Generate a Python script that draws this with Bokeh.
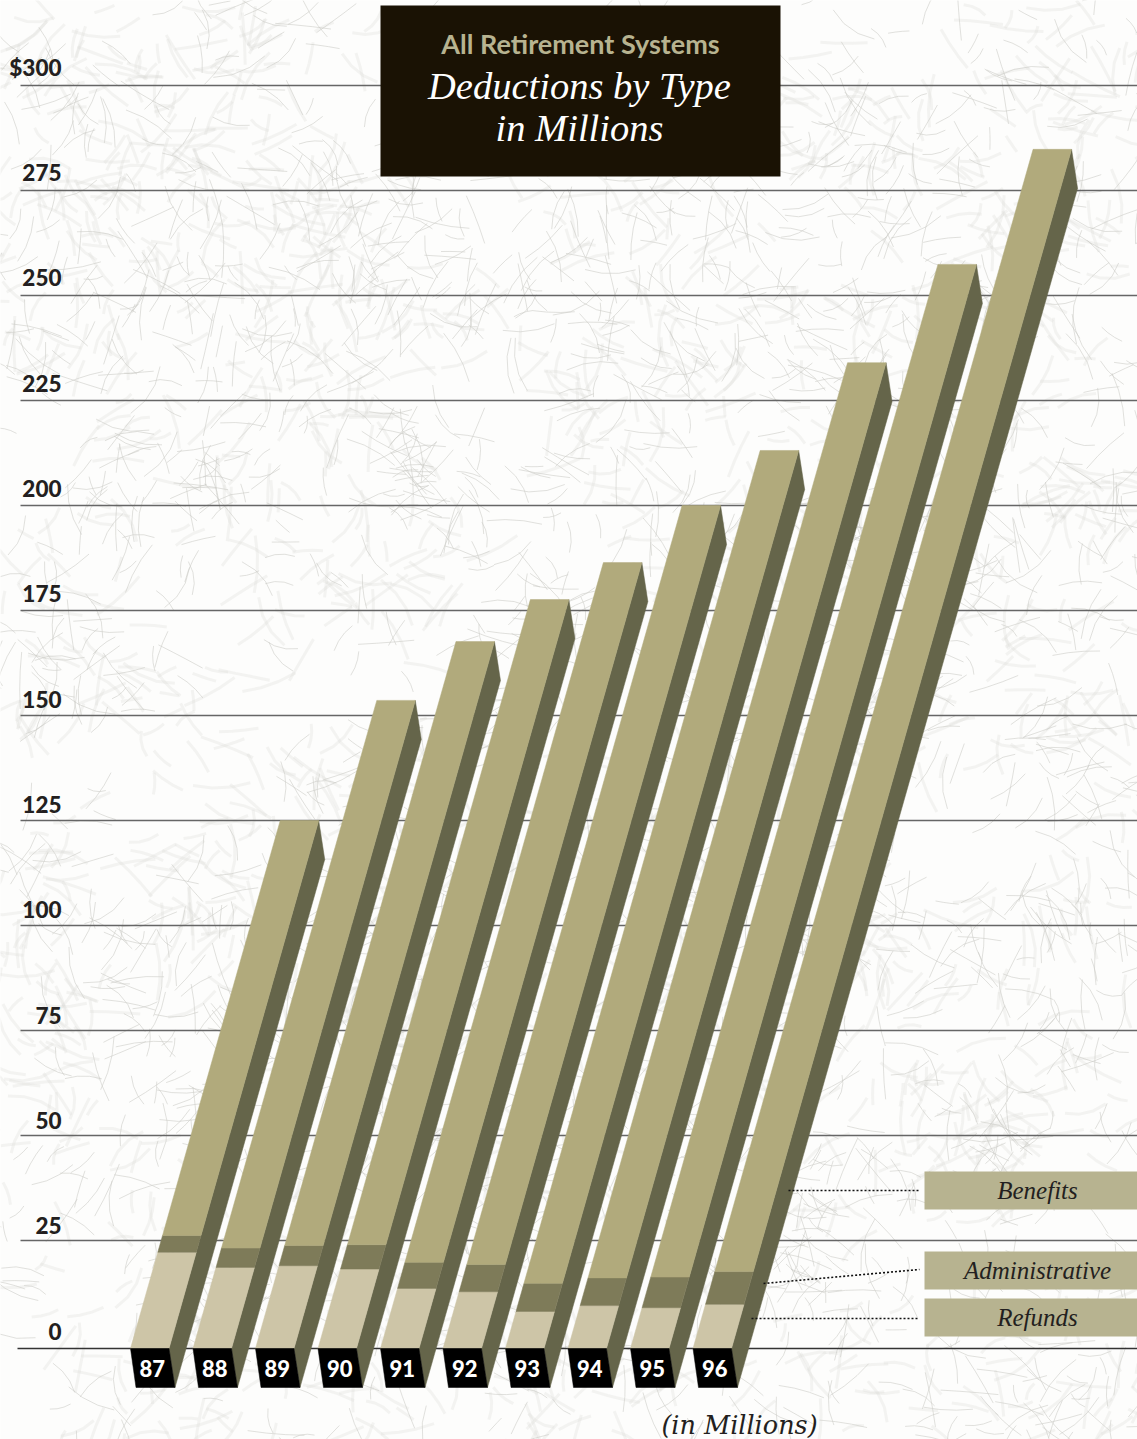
import math

from bokeh.core.properties import value
from bokeh.embed import file_html
from bokeh.models import Range1d
from bokeh.plotting import figure
from bokeh.resources import INLINE

# Deductions in millions of dollars, fiscal years 1987-1996
years = ["87", "88", "89", "90", "91", "92", "93", "94", "95", "96"]
refunds = [22.2, 18.6, 19.0, 18.2, 13.6, 12.8, 8.1, 9.5, 9.0, 9.8]
administrative = [4.0, 4.6, 4.8, 5.8, 6.2, 6.5, 6.7, 6.6, 7.3, 7.8]
benefits = [98.8, 130.4, 143.8, 153.6, 166.6, 180.7, 198.3, 217.9, 241.1, 267.2]
tick_values = [300, 275, 250, 225, 200, 175, 150, 125, 100, 75, 50, 25]
tick_labels = ["$300", "275", "250", "225", "200", "175", "150", "125", "100", "75", "50", "25", "0"]
label_values = tick_values + [0]

WIDTH, HEIGHT = 1137, 1439
PX_PER_UNIT = 4.2
ZERO_PX = 1345.0
FLOOR_PX = 1348.0          # the floor of the chart sits just under the zero of the scale
FLOOR = (ZERO_PX - FLOOR_PX) / PX_PER_UNIT
SHEAR = 0.2836 * PX_PER_UNIT   # horizontal lean per unit of value
BAR_W = 38.5
BAR_STEP = 62.5
BAR_X0 = 130.0
SIDE_DX = 6.0
SIDE_DY = 39.0 / PX_PER_UNIT
LABEL_ZERO_PX = 1330.5
LABEL_PX_PER_UNIT = 4.2133

C_BENEFITS = "#b1aa7c"
C_ADMIN = "#7e7b59"
C_REFUNDS = "#cdc5a7"
C_SIDE = "#65654a"
C_LEGEND = "#b7b390"
C_TITLE_BOX = "#1a1204"
C_INK = "#231f20"
HEAVY = value("Lato Black")

p = figure(
    width=WIDTH, height=HEIGHT, output_backend="svg", toolbar_location=None,
    x_range=Range1d(0, WIDTH),
    y_range=Range1d((ZERO_PX - HEIGHT) / PX_PER_UNIT, ZERO_PX / PX_PER_UNIT),
    x_axis_type=None, y_axis_type=None, min_border=0,
    background_fill_color="#fdfdfc", border_fill_color="#fdfdfc", outline_line_color=None,
)
p.grid.visible = False
p.extra_y_ranges = {"px": Range1d(HEIGHT, 0)}


def scramble(n):
    return math.modf(abs(math.sin(n * 12.9898 + 4.1414) * 43758.5453))[0]


# Paper fibres: short bent strokes gathered into loose tufts
def fibres(tufts, per_tuft, seed):
    xs, ys = [], []
    n = seed
    for _ in range(tufts):
        cx, cy = scramble(n) * WIDTH, scramble(n + 1) * HEIGHT
        n += 2
        lean_angle = scramble(n) * math.pi
        n += 1
        for _ in range(per_tuft):
            x = cx + (scramble(n) - 0.5) * 110
            y = cy + (scramble(n + 1) - 0.5) * 90
            a = lean_angle + (scramble(n + 2) - 0.5) * 2.4
            length = 18 + scramble(n + 3) * 40
            bend = (scramble(n + 4) - 0.5) * 0.6
            n += 5
            fx, fy = [x], [y]
            for _ in range(3):
                x += math.cos(a) * length / 3
                y += math.sin(a) * length / 3
                a += bend
                fx.append(x)
                fy.append(y)
            xs.append(fx)
            ys.append(fy)
    return xs, ys


soft_x, soft_y = fibres(340, 6, 11)
p.multi_line(soft_x, soft_y, y_range_name="px", line_color="#d4d4d0", line_width=3.0, line_alpha=0.24)
fine_x, fine_y = fibres(400, 6, 5003)
p.multi_line(fine_x, fine_y, y_range_name="px", line_color="#cdcdc8", line_width=1.0, line_alpha=0.6)

# Rules
p.segment([20] * len(tick_values), tick_values, [WIDTH] * len(tick_values), tick_values,
          line_color="#666666", line_width=1.3)
p.segment([17], [FLOOR], [WIDTH], [FLOOR], line_color="#333333", line_width=1.3)

# Scale labels
p.text([61] * len(label_values), [LABEL_ZERO_PX - v * LABEL_PX_PER_UNIT for v in label_values],
       text=tick_labels, y_range_name="px", text_font=HEAVY, text_font_size="22.5px",
       text_color=C_INK, text_align="right", text_baseline="middle")


def lean(x, v):
    return x + SHEAR * (v - FLOOR)


face_x, face_y, face_c = [], [], []
side_x, side_y = [], []
block_x, block_y = [], []
label_x = []
for i, year in enumerate(years):
    left = BAR_X0 + BAR_STEP * i
    right = left + BAR_W
    a = refunds[i]
    b = a + administrative[i]
    c = b + benefits[i]
    for low, high, colour in ((FLOOR, a, C_REFUNDS), (a, b, C_ADMIN), (b, c, C_BENEFITS)):
        face_x.append([lean(left, low), lean(right, low), lean(right, high), lean(left, high)])
        face_y.append([low, low, high, high])
        face_c.append(colour)
    side_x.append([lean(right, FLOOR), lean(right, FLOOR) + SIDE_DX,
                   lean(right, c) + SIDE_DX, lean(right, c)])
    side_y.append([FLOOR, FLOOR - SIDE_DY, c - SIDE_DY, c])
    block_x.append([left, right, right + SIDE_DX, left + SIDE_DX - 0.5])
    block_y.append([FLOOR, FLOOR, FLOOR - SIDE_DY, FLOOR - SIDE_DY])
    label_x.append(left + BAR_W / 2 + 2.5)

p.patches(side_x, side_y, fill_color=C_SIDE, line_color=C_SIDE, line_width=0.5)
p.patches(face_x, face_y, fill_color=face_c, line_color=face_c, line_width=0.5)
p.patches(block_x, block_y, fill_color="#000000", line_color="#000000", line_width=0.5)
p.text(label_x, [FLOOR - SIDE_DY / 2] * len(years), text=years,
       text_font=HEAVY, text_font_size="22px",
       text_color="#ffffff", text_align="center", text_baseline="middle")

# Title panel
p.quad(left=[380], right=[780], top=[5], bottom=[176], y_range_name="px",
       fill_color=C_TITLE_BOX, line_color=None)
p.text([580], [43], text=["All Retirement Systems"], y_range_name="px",
       text_font=value("Lato"), text_font_style="bold", text_font_size="27px",
       text_color=C_LEGEND, text_align="center", text_baseline="middle")
p.text([579], [85], text=["Deductions by Type"], y_range_name="px",
       text_font=value("Liberation Serif"), text_font_style="italic", text_font_size="38.5px",
       text_color="#ffffff", text_align="center", text_baseline="middle")
p.text([579], [127], text=["in Millions"], y_range_name="px",
       text_font=value("Liberation Serif"), text_font_style="italic", text_font_size="38.5px",
       text_color="#ffffff", text_align="center", text_baseline="middle")

# Key panels with dotted leaders
key_names = ["Benefits", "Administrative", "Refunds"]
key_tops = [1171, 1251, 1298]
key_bottoms = [1209, 1289, 1336]
leader_x0 = [788, 763, 751]
leader_y0 = [1190, 1283, 1318]
leader_y1 = [1190, 1269, 1318]
p.quad(left=[924] * 3, right=[WIDTH] * 3, top=key_tops, bottom=key_bottoms, y_range_name="px",
       fill_color=C_LEGEND, line_color=None)
p.text([1037] * 3, [(t + b) / 2 for t, b in zip(key_tops, key_bottoms)], text=key_names,
       y_range_name="px", text_font=value("Liberation Serif"), text_font_style="italic",
       text_font_size="25px", text_color=C_INK, text_align="center", text_baseline="middle")
p.segment(leader_x0, leader_y0, [919] * 3, leader_y1, y_range_name="px",
          line_color="#111111", line_width=1.6, line_dash="2 2")

p.text([739], [1424], text=["(in Millions)"], y_range_name="px",
       text_font=value("DejaVu Serif"), text_font_style="italic", text_font_size="25.5px",
       text_color=C_INK, text_align="center", text_baseline="middle")

open("out.html", "w").write(file_html(p, INLINE))
